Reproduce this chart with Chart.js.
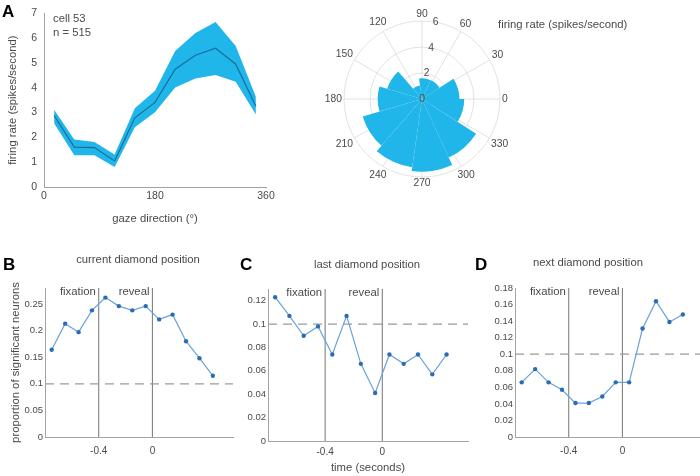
<!DOCTYPE html>
<html>
<head>
<meta charset="utf-8">
<script src="https://cdn.jsdelivr.net/npm/chart.js@4.4.1/dist/chart.umd.min.js"></script>
<style>
  body { margin: 0; width: 700px; height: 476px; overflow: hidden; background: #fff; position: relative;
         font-family: 'Liberation Sans', Arial, sans-serif; }
  canvas { position: absolute; }
  .txt { position: absolute; color: #4a4a4a; font-size: 11.3px; line-height: 1; white-space: nowrap; }
  .mid { transform: translate(-50%, -50%); }
  .left { transform: translateY(-50%); }
  .letter { position: absolute; font-weight: bold; font-size: 17px; line-height: 1; color: #000; }
</style>
</head>
<body>
<canvas id="tuning"></canvas>
<canvas id="polar"></canvas>
<canvas id="current"></canvas>
<canvas id="last"></canvas>
<canvas id="next"></canvas>

<div class="letter" style="left:2px;top:3px">A</div>
<div class="letter" style="left:3px;top:256px">B</div>
<div class="letter" style="left:240px;top:256px">C</div>
<div class="letter" style="left:475px;top:256px">D</div>

<div class="txt left" style="left:53px;top:19px">cell 53</div>
<div class="txt left" style="left:53px;top:33px">n = 515</div>
<div class="txt left" style="left:498px;top:25px">firing rate (spikes/second)</div>
<div class="txt mid" style="left:138px;top:260px">current diamond position</div>
<div class="txt mid" style="left:367px;top:265px">last diamond position</div>
<div class="txt mid" style="left:588px;top:263px">next diamond position</div>

<script>
// panel A: firing rate vs gaze direction (11 bins)
const GAZE_DIR = [16.4, 49.1, 81.8, 114.5, 147.3, 180, 212.7, 245.5, 278.2, 310.9, 343.6];
const RATE_MEAN = [2.88, 1.61, 1.59, 1.05, 2.79, 3.41, 4.75, 5.31, 5.59, 4.95, 3.25];
const RATE_UPPER = [3.11, 1.91, 1.81, 1.31, 3.17, 3.88, 5.48, 6.21, 6.65, 5.68, 3.64];
const RATE_LOWER = [2.57, 1.28, 1.28, 0.81, 2.41, 3.01, 4.01, 4.37, 4.51, 4.24, 2.92];
const RATE_TICKS = [0, 1, 2, 3, 4, 5, 6, 7];
const DIR_TICKS = [0, 180, 360];
const ANGLE_TICKS = [0, 30, 60, 90, 120, 150, 180, 210, 240, 270, 300, 330];
const RADIAL_TICKS = [0, 2, 4, 6];

// panels B-D: proportion of significant neurons over time
const TIME = [-0.75, -0.65, -0.55, -0.45, -0.35, -0.25, -0.15, -0.05, 0.05, 0.15, 0.25, 0.35, 0.45];
const CURRENT = [0.164, 0.213, 0.197, 0.238, 0.262, 0.246, 0.238, 0.246, 0.221, 0.230, 0.180, 0.148, 0.115];
const LAST = [0.123, 0.107, 0.090, 0.098, 0.074, 0.107, 0.066, 0.041, 0.074, 0.066, 0.074, 0.057, 0.074];
const NEXT = [0.066, 0.082, 0.066, 0.057, 0.041, 0.041, 0.049, 0.066, 0.066, 0.131, 0.164, 0.139, 0.148];
const TIME_TICKS = [-0.4, 0];
const EVENT_TIMES = [-0.4, 0];
const EVENT_NAMES = ['fixation', 'reveal'];
const CHANCE = 0.1;
const CURRENT_TICKS = [0, 0.05, 0.1, 0.15, 0.2, 0.25];
const LAST_TICKS = [0, 0.02, 0.04, 0.06, 0.08, 0.1, 0.12];
const NEXT_TICKS = [0, 0.02, 0.04, 0.06, 0.08, 0.1, 0.12, 0.14, 0.16, 0.18];
const TIME_MIN = -0.8;
const TIME_MAX = 0.6;

const FONT = "'Liberation Sans', Arial, sans-serif";
const CYAN = '#20b6ea';
const TEXT = '#4a4a4a';
const AXIS = '#a3a3a3';
const GRID = '#e2e2e2';

Chart.defaults.font.family = FONT;
Chart.defaults.color = TEXT;
Chart.defaults.animation = false;

const toXY = (xs, ys) => xs.map((x, i) => ({ x, y: ys[i] }));
const useTicks = (list) => (s) => { s.ticks = list.map(v => ({ value: v })); };

function place(id, left, top, w, h) {
    const c = document.getElementById(id);
    c.width = w;
    c.height = h;
    c.style.left = left + 'px';
    c.style.top = top + 'px';
    return c;
}

// A: tuning curve (first dataset is drawn on top)
new Chart(place('tuning', 0, 0, 300, 230), {
    type: 'line',
    data: {
        datasets: [
            { data: toXY(GAZE_DIR, RATE_MEAN), borderColor: '#1a6b9d', borderWidth: 1.2, pointRadius: 0, fill: false },
            { data: toXY(GAZE_DIR, RATE_UPPER), borderColor: 'transparent', borderWidth: 0, pointRadius: 0, backgroundColor: CYAN, fill: '+1' },
            { data: toXY(GAZE_DIR, RATE_LOWER), borderColor: 'transparent', borderWidth: 0, pointRadius: 0, fill: false },
        ],
    },
    options: {
        responsive: false,
        layout: { padding: { left: 0, top: 12, right: 34, bottom: 0 } },
        plugins: { legend: { display: false }, tooltip: { enabled: false } },
        scales: {
            x: {
                type: 'linear', min: 0, max: 360,
                afterBuildTicks: useTicks(DIR_TICKS),
                afterFit: (s) => { s.height = 43; },
                grid: { display: false, drawTicks: false },
                border: { color: AXIS },
                ticks: { padding: 3, font: { size: 10.5 }, maxRotation: 0, autoSkip: false, callback: (v) => String(v) },
                title: { display: true, text: 'gaze direction (°)', font: { size: 11.3 }, padding: { top: 0, bottom: 4 } },
            },
            y: {
                min: 0, max: 7,
                afterBuildTicks: useTicks(RATE_TICKS),
                afterFit: (s) => { s.width = 44; },
                grid: { display: false, drawTicks: false },
                border: { color: AXIS },
                ticks: { padding: 7, font: { size: 10.5 }, callback: (v) => String(v) },
                title: { display: true, text: 'firing rate (spikes/second)', font: { size: 11.3 }, padding: { top: 6, bottom: 0 } },
            },
        },
    },
});

// A: polar histogram, angles counterclockwise from east
const polarGrid = {
    id: 'polarGrid',
    beforeDatasetsDraw(chart) {
        const r = chart.scales.r;
        const R = r.getDistanceFromCenterForValue(RADIAL_TICKS[RADIAL_TICKS.length - 1]);
        const ctx = chart.ctx;
        ctx.save();
        ctx.strokeStyle = GRID;
        ctx.lineWidth = 1;
        ANGLE_TICKS.forEach((a) => {
            const t = a * Math.PI / 180;
            ctx.beginPath();
            ctx.moveTo(r.xCenter, r.yCenter);
            ctx.lineTo(r.xCenter + R * Math.cos(t), r.yCenter - R * Math.sin(t));
            ctx.stroke();
        });
        ctx.restore();
    },
    afterDatasetsDraw(chart) {
        const r = chart.scales.r;
        const R = r.getDistanceFromCenterForValue(RADIAL_TICKS[RADIAL_TICKS.length - 1]);
        const ctx = chart.ctx;
        ctx.save();
        ctx.font = '10.3px ' + FONT;
        ctx.fillStyle = TEXT;
        ctx.textAlign = 'center';
        ctx.textBaseline = 'middle';
        ANGLE_TICKS.forEach((a) => {
            const t = a * Math.PI / 180;
            const dx = Math.cos(t), dy = -Math.sin(t);
            const w = ctx.measureText(String(a)).width;
            const d = R + 2 + 0.5 * (Math.abs(dx) * w + Math.abs(dy) * 9);
            ctx.fillText(String(a), r.xCenter + dx * d, r.yCenter + dy * d);
        });
        const lab = 80 * Math.PI / 180;
        RADIAL_TICKS.forEach((v) => {
            const d = r.getDistanceFromCenterForValue(v);
            ctx.fillText(String(v), r.xCenter + d * Math.cos(lab), r.yCenter - d * Math.sin(lab));
        });
        ctx.restore();
    },
};

new Chart(place('polar', 312, 0, 220, 200), {
    type: 'polarArea',
    data: {
        labels: GAZE_DIR.slice().reverse().map(String),
        datasets: [{
            data: RATE_MEAN.slice().reverse(),
            backgroundColor: CYAN,
            borderWidth: 0,
        }],
    },
    options: {
        responsive: false,
        layout: { padding: { left: 32, top: 21, right: 32, bottom: 23 } },
        plugins: { legend: { display: false }, tooltip: { enabled: false } },
        scales: {
            r: {
                min: 0, max: 6,
                startAngle: 90,
                ticks: { display: false, stepSize: 2 },
                grid: { circular: true, color: GRID },
                angleLines: { display: false },
                pointLabels: { display: false },
            },
        },
    },
    plugins: [polarGrid],
});

// B-D: event-aligned proportion panels
const eventLabels = {
    id: 'eventLabels',
    afterDatasetsDraw(chart) {
        const { ctx, chartArea, scales: { x } } = chart;
        ctx.save();
        ctx.font = '11.3px ' + FONT;
        ctx.fillStyle = TEXT;
        ctx.textAlign = 'right';
        ctx.textBaseline = 'top';
        EVENT_TIMES.forEach((t, i) => {
            ctx.fillText(EVENT_NAMES[i], x.getPixelForValue(t) - 3, chartArea.top - 2);
        });
        ctx.restore();
    },
};

function eventPanel(id, box, values, yMax, yTicks, cfg) {
    const datasets = [
        {
            data: toXY(TIME, values),
            borderColor: '#6aa2d8', borderWidth: 1.2,
            pointRadius: 2.2, pointBackgroundColor: '#2b6db0', pointBorderColor: '#2b6db0', pointBorderWidth: 0,
            fill: false,
        },
        {
            data: [{ x: TIME_MIN, y: CHANCE }, { x: TIME_MAX, y: CHANCE }],
            borderColor: '#9a9a9a', borderWidth: 1.2, borderDash: [9, 6], pointRadius: 0, fill: false,
        },
    ];
    EVENT_TIMES.forEach((t) => {
        datasets.push({
            data: [{ x: t, y: 0 }, { x: t, y: yMax }],
            borderColor: '#808080', borderWidth: 1.1, pointRadius: 0, fill: false,
        });
    });

    return new Chart(place(id, box.left, box.top, box.w, box.h), {
        type: 'line',
        data: { datasets },
        options: {
            responsive: false,
            layout: { padding: { left: 0, top: box.padT, right: box.padR, bottom: 0 } },
            plugins: { legend: { display: false }, tooltip: { enabled: false } },
            scales: {
                x: {
                    type: 'linear', min: TIME_MIN, max: TIME_MAX,
                    afterBuildTicks: useTicks(TIME_TICKS),
                    afterFit: (s) => { s.height = box.xh; },
                    grid: { display: false, drawTicks: false },
                    border: { color: AXIS },
                    ticks: { padding: cfg.xPad, font: { size: 10 }, maxRotation: 0, autoSkip: false, callback: (v) => String(v) },
                    title: { display: !!cfg.xTitle, text: cfg.xTitle || '', font: { size: 11.3 }, padding: { top: 0, bottom: 1 } },
                },
                y: {
                    min: 0, max: yMax,
                    afterBuildTicks: useTicks(yTicks),
                    afterFit: (s) => { s.width = box.yw; },
                    grid: { display: false, drawTicks: false },
                    border: { color: AXIS },
                    ticks: { padding: 2, font: { size: 9.5 }, callback: (v) => String(v) },
                    title: { display: !!cfg.yTitle, text: cfg.yTitle || '', font: { size: 11.3 }, padding: { top: 9, bottom: 0 } },
                },
            },
        },
        plugins: [eventLabels],
    });
}

eventPanel('current', { left: 0, top: 248, w: 240, h: 214, padT: 40, padR: 7, yw: 45, xh: 25 },
    CURRENT, 0.28, CURRENT_TICKS, { xPad: 8, yTitle: 'proportion of significant neurons' });
eventPanel('last', { left: 222, top: 248, w: 250, h: 228, padT: 41, padR: 2, yw: 46, xh: 35 },
    LAST, 0.13, LAST_TICKS, { xPad: 5, xTitle: 'time (seconds)' });
eventPanel('next', { left: 470, top: 248, w: 240, h: 214, padT: 40, padR: 7, yw: 45, xh: 25 },
    NEXT, 0.18, NEXT_TICKS, { xPad: 8 });
</script>
</body>
</html>
